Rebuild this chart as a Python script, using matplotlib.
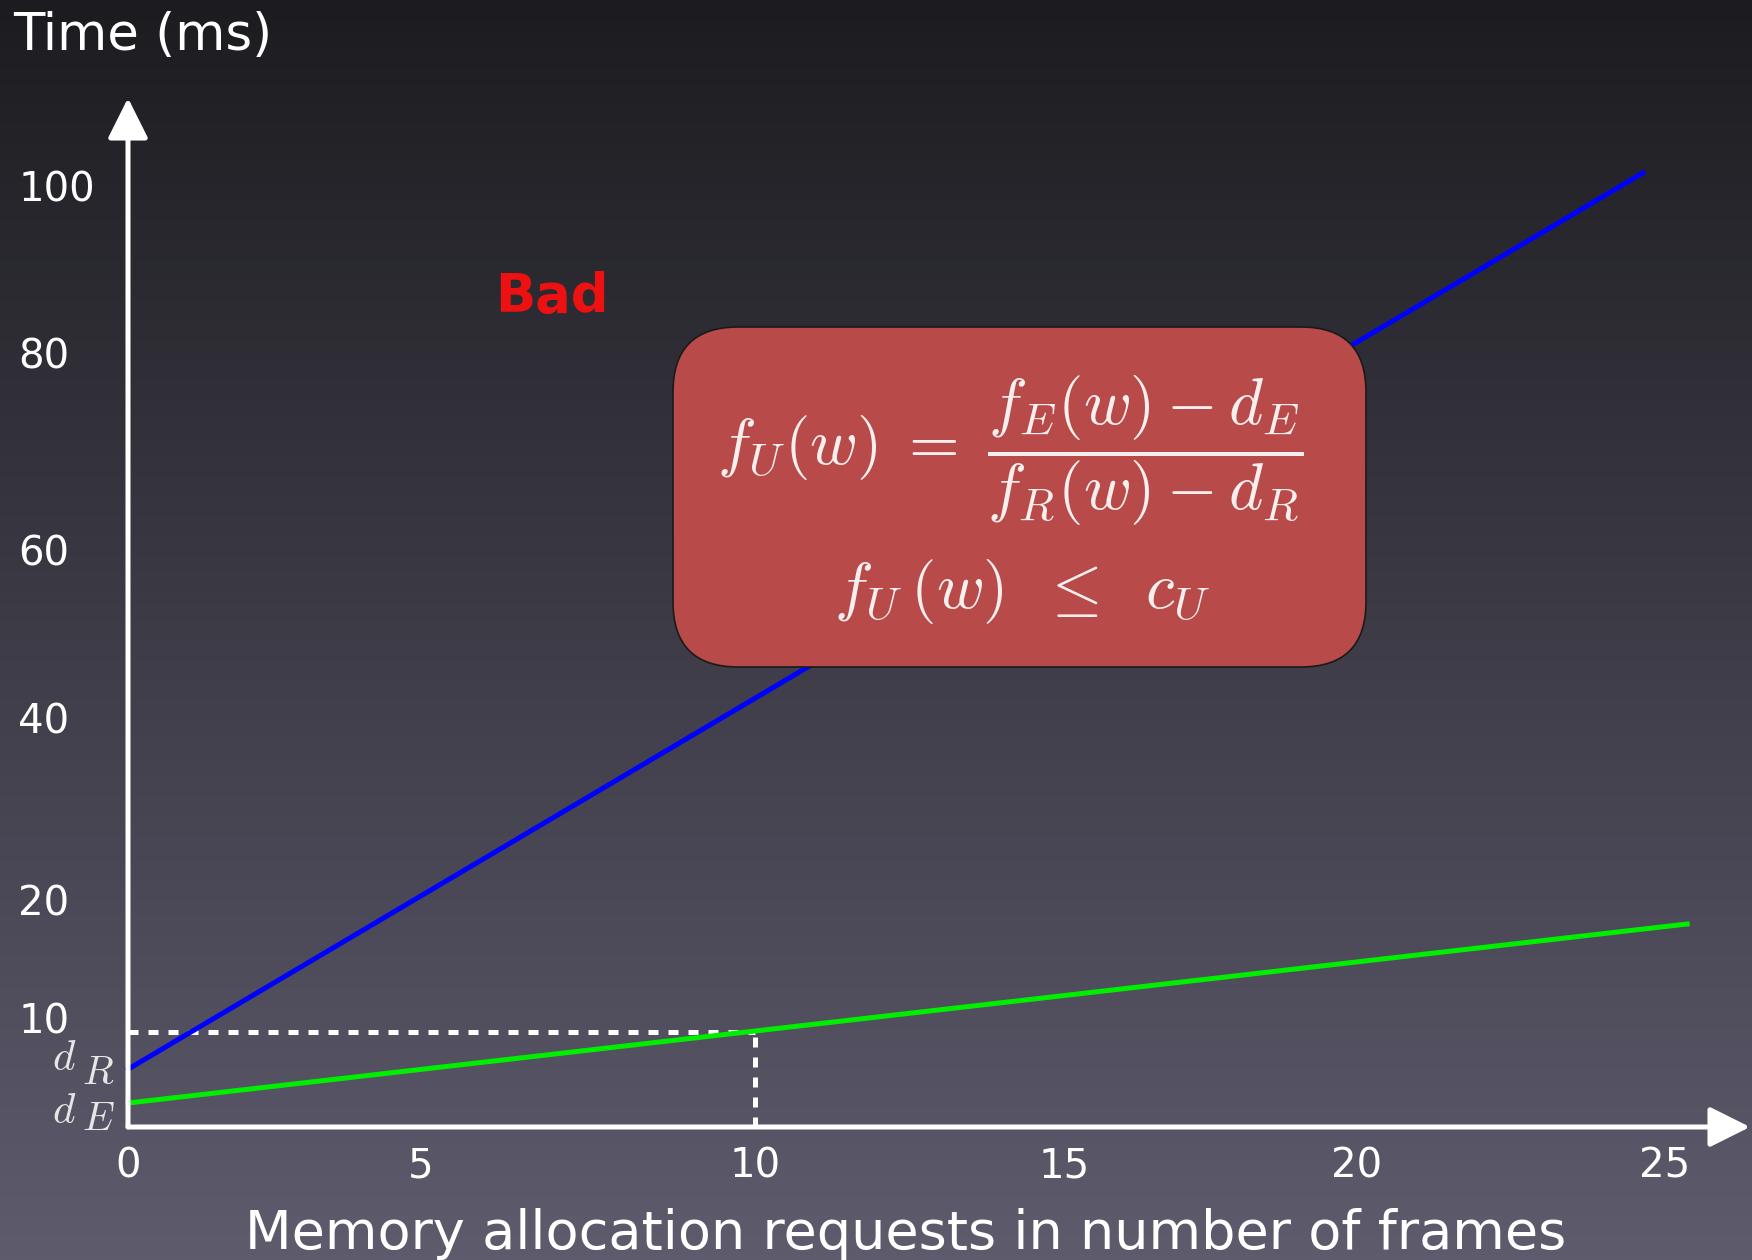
import numpy as np
import matplotlib.pyplot as plt
from matplotlib.colors import LinearSegmentedColormap
from matplotlib.patches import FancyBboxPatch

plt.rcParams['font.family'] = 'DejaVu Sans'
plt.rcParams['mathtext.fontset'] = 'cm'

# values
x_ticks = [0, 5, 10, 15, 20, 25]
y_ticks = [10, 20, 40, 60, 80, 100]
d_R = 5.3
d_E = 2.2
bad_frames = [0, 24.64]
bad_time = [d_R, 101.5]
good_frames = [0, 25.36]
good_time = [d_E, 18.0]
marked_frames = 10
marked_time = 8.75

# the hand drawn axes are not evenly spaced: value -> pixel offset from origin
x_ref = [0, 5, 10, 15, 20, 25]
x_px = [0, 293, 627, 936, 1229, 1537]
y_ref = [0, 10, 20, 40, 60, 80, 100]
y_px = [0, 109, 226.5, 409, 577, 774, 941.5]

W, H = 1752, 1260


def piecewise(xs, ys):
    xs = np.asarray(xs, float)
    ys = np.asarray(ys, float)

    def f(v):
        v = np.asarray(v, float)
        mid = np.interp(v, xs, ys)
        lo = ys[0] + (v - xs[0]) * (ys[1] - ys[0]) / (xs[1] - xs[0])
        hi = ys[-1] + (v - xs[-1]) * (ys[-1] - ys[-2]) / (xs[-1] - xs[-2])
        return np.where(v < xs[0], lo, np.where(v > xs[-1], hi, mid))
    return f


fig = plt.figure(figsize=(W / 100, H / 100), dpi=100)

# background gradient
bg = fig.add_axes([0, 0, 1, 1], zorder=-1)
cmap = LinearSegmentedColormap.from_list('slide', ['#1c1c20', '#5e5b6d'])
bg.imshow(np.linspace(0, 1, 256)[:, None], aspect='auto', cmap=cmap,
          extent=[0, 1, 0, 1], origin='upper')
bg.axis('off')

ax = fig.add_axes([128 / W, (H - 1127) / H, (1750 - 128) / W, (1127 - 98) / H])
ax.set_facecolor('none')
ax.set_xscale('function', functions=(piecewise(x_ref, x_px), piecewise(x_px, x_ref)))
ax.set_yscale('function', functions=(piecewise(y_ref, y_px), piecewise(y_px, y_ref)))
ax.set_xlim(0, float(piecewise(x_px, x_ref)(1622)))
ax.set_ylim(0, float(piecewise(y_px, y_ref)(1029)))

# the two curves and the marked point
ax.plot(bad_frames, bad_time, color='#0000ff', lw=3.6, clip_on=False, zorder=3)
ax.plot(good_frames, good_time, color='#00ee00', lw=3.6, clip_on=False, zorder=3)
ax.plot([0, marked_frames], [marked_time, marked_time], color='white', lw=3.6,
        dashes=(2, 2), clip_on=False, zorder=2)
ax.plot([marked_frames, marked_frames], [0, marked_time], color='white', lw=3.6,
        dashes=(2, 2), clip_on=False, zorder=2)

# axis arrows
for end in [(1, 0), (0, 1)]:
    ax.annotate('', xy=end, xytext=(0, 0), xycoords='axes fraction',
                arrowprops=dict(arrowstyle='-|>', color='white', lw=3.6,
                                mutation_scale=62, shrinkA=0, shrinkB=0))

for s in ax.spines.values():
    s.set_visible(False)
ax.set_xticks(x_ticks)
ax.set_xticklabels([str(t) for t in x_ticks])
ax.set_yticks(y_ticks)
ax.set_yticklabels([str(t) for t in y_ticks])
ax.minorticks_off()
ax.tick_params(length=0, labelsize=29, labelcolor='white')
ax.tick_params(axis='x', pad=14)
ax.tick_params(axis='y', pad=79)
for lab in ax.get_yticklabels():
    lab.set_ha('left')

# d_R / d_E labels next to the axis
for val, sub, d_off, s_off in [(d_R, 'R', (-64, 11), (-30, -4)),
                               (d_E, 'E', (-64, -8), (-30, -16))]:
    ax.annotate(r'$d$', xy=(0, val), xytext=d_off, textcoords='offset pixels',
                ha='center', va='center', fontsize=31, color='#e6e6e6',
                annotation_clip=False)
    ax.annotate('$' + sub + '$', xy=(0, val), xytext=s_off, textcoords='offset pixels',
                ha='center', va='center', fontsize=29, color='#e6e6e6',
                annotation_clip=False)

fig.text(13 / W, 1 - 50 / H, 'Time (ms)', fontsize=37, color='white', va='baseline')
fig.text(906 / W, 1 - 1249 / H, 'Memory allocation requests in number of frames',
         fontsize=39, color='white', ha='center', va='baseline')
fig.text(552 / W, 1 - 312 / H, 'Bad', fontsize=38, weight='bold', color='#ee1111',
         ha='center', va='baseline')

# formula box
box = FancyBboxPatch((6.73, (H - 667) / 100), 6.93, 3.40,
                     boxstyle='round,pad=0,rounding_size=0.65',
                     transform=fig.dpi_scale_trans, facecolor='#b84a4a',
                     edgecolor='#1a1a1a', lw=1.2, zorder=5)
fig.add_artist(box)
fig.text(1010 / W, 1 - 451 / H,
         r'$f_U(w)\;=\;\dfrac{f_E(w)-d_E}{f_R(w)-d_R}$',
         fontsize=47, color='#f7eeee', ha='center', va='center', zorder=6)
fig.text(1022 / W, 1 - 592 / H, r'$f_U\,(w)\;\;\leq\;\;c_U$',
         fontsize=47, color='#f7eeee', ha='center', va='center', zorder=6)

fig.savefig('out.png', dpi=100)
